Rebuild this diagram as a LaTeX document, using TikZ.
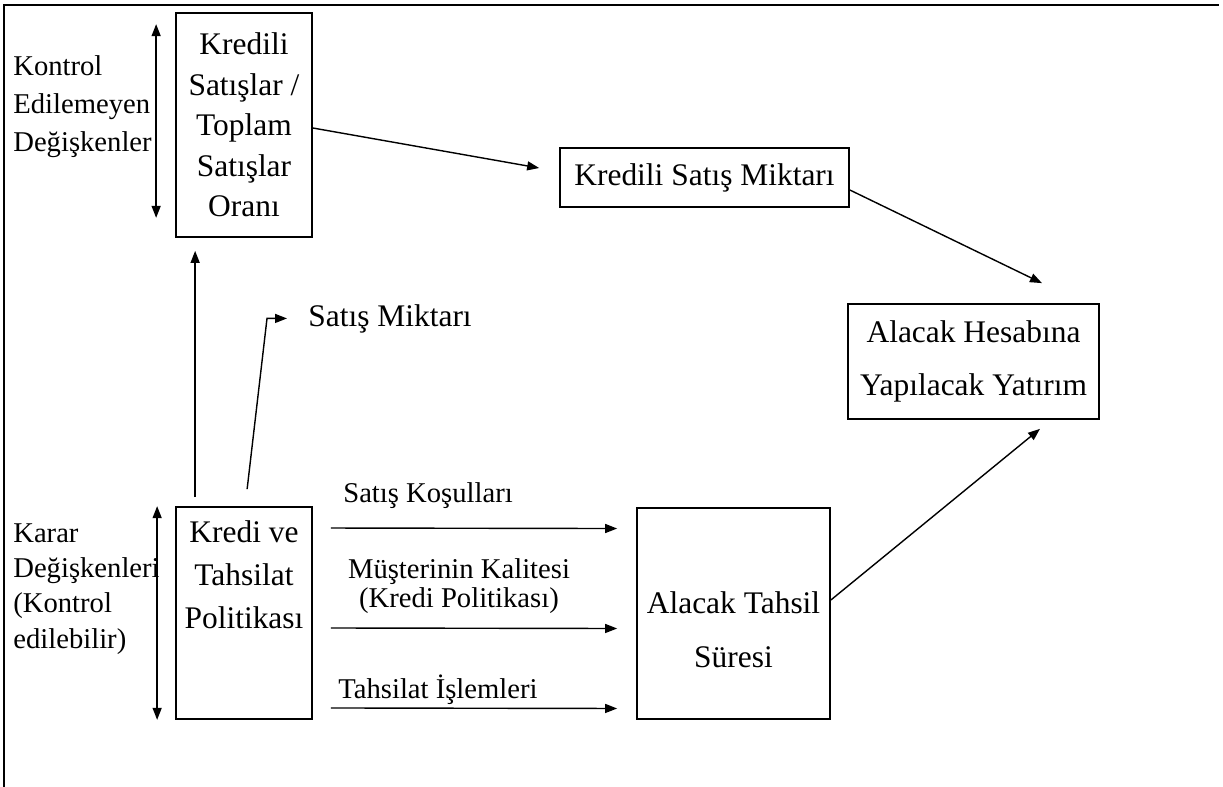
\documentclass[tikz,border=0pt]{standalone}
\usepackage{fontspec}
\setmainfont{Liberation Serif}
\usetikzlibrary{arrows.meta}

\begin{document}
\begin{tikzpicture}[x=0.02cm,y=-0.02cm,
	box/.style={draw,line width=1pt,align=center,inner xsep=0.1cm,inner ysep=0.1cm},
	arr/.style={line width=0.8pt,-{Triangle[length=0.24cm,width=0.18cm]}},
	dbl/.style={line width=0.8pt,{Triangle[length=0.24cm,width=0.18cm]}-{Triangle[length=0.24cm,width=0.18cm]}},
	lbl/.style={inner sep=0pt,font=\fontsize{16.3}{21}\selectfont}]
\useasboundingbox (0,0) rectangle (1223,787);
% frame
\draw[line width=1.2pt] (4,787) -- (4,5) -- (1219,5);

% boxes
\node [box,minimum width=2.72cm,minimum height=4.48cm,font=\fontsize{17.9}{23}\selectfont] (oran) at (244,125) {Kredili\\Satışlar /\\Toplam\\Satışlar\\Oranı};
\node [box,minimum width=5.78cm,minimum height=1.18cm,font=\fontsize{17.9}{23}\selectfont] (miktar) at (704.5,177.5) {Kredili Satış Miktarı};
\node [box,minimum width=5.02cm,minimum height=2.3cm,font=\fontsize{17.9}{30.6}\selectfont] (yatirim) at (973.5,361.5) {Alacak Hesabına\\Yapılacak Yatırım};
\node [box,minimum width=2.72cm,minimum height=4.24cm,text height=2.2cm,text depth=1.6cm,font=\fontsize{17.9}{24.4}\selectfont] (pol) at (244,613) {Kredi ve\\Tahsilat\\Politikası};
\node [box,minimum width=3.86cm,minimum height=4.22cm,text height=2.6cm,text depth=0.42cm,font=\fontsize{17.9}{31.2}\selectfont] (sure) at (733.5,613.5) {Alacak Tahsil\\Süresi};

% texts
\node [lbl,anchor=base west,align=left,font=\fontsize{16.3}{21.8}\selectfont] (kontrol) at (13,152) {Kontrol\\Edilemeyen\\Değişkenler};
\node [lbl,anchor=base west,align=left,font=\fontsize{16.3}{20.1}\selectfont] (karar) at (13,648) {Karar\\Değişkenleri\\(Kontrol\\edilebilir)};
\node [anchor=base west,inner sep=0pt,font=\fontsize{17.9}{23}\selectfont] (satis) at (308,326) {Satış Miktarı};
\node [lbl,anchor=base west] (kosul) at (343,502) {Satış Koşulları};
\node [lbl,anchor=base,align=center,font=\fontsize{16.3}{16}\selectfont] (musteri) at (459,607) {Müşterinin Kalitesi\\(Kredi Politikası)};
\node [lbl,anchor=base west] (islem) at (338,698) {Tahsilat İşlemleri};

% arrows
\draw[dbl] ([xshift=-0.38cm,yshift=-0.24cm]oran.north west) -- ([xshift=-0.38cm,yshift=0.4cm]oran.south west);
\draw[dbl] ([xshift=-0.36cm]pol.north west) -- ([xshift=-0.36cm]pol.south west);
\draw[arr] ([xshift=0.4cm,yshift=0.18cm]pol.north west) -- ([xshift=0.4cm,yshift=-0.26cm]oran.south west);
\draw[arr] ([xshift=1.44cm,yshift=0.34cm]pol.north west) -- ([xshift=-0.82cm]satis.west) -- ([xshift=-0.42cm]satis.west);
\draw[arr] ([yshift=-0.06cm]oran.east) -- ([xshift=-0.4cm,yshift=0.19cm]miktar.west);
\draw[arr] ([yshift=-0.25cm]miktar.east) -- ([xshift=1.37cm,yshift=0.4cm]yatirim.north);
\draw[arr] ([yshift=0.27cm]sure.east) -- ([xshift=1.33cm,yshift=-0.18cm]yatirim.south);
\foreach \dy in {1.7,-0.3,-1.9}
	\draw[arr] ([xshift=0.36cm,yshift=\dy cm]pol.east) -- ([xshift=-0.38cm,yshift=\dy cm]sure.west);
\end{tikzpicture}
\end{document}
